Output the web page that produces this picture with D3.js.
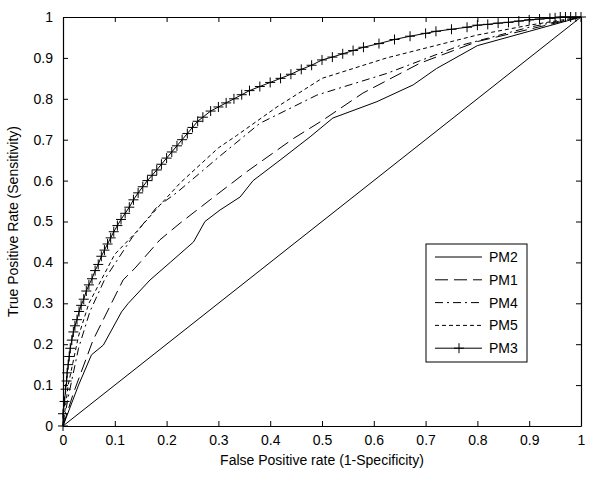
<!DOCTYPE html>
<html>
<head>
<meta charset="utf-8">
<script src="https://cdn.jsdelivr.net/npm/d3@7"></script>
<style>
  body { margin: 0; background: #fff; }
  svg text { font-family: Arial, "Liberation Sans", sans-serif; fill: #000; }
</style>
</head>
<body>
<div id="chart"></div>
<script>
// ROC curves (false positive rate, true positive rate)
const pm2X = [0, 0.03, 0.055, 0.078, 0.113, 0.126, 0.168, 0.207, 0.252, 0.274, 0.303, 0.342, 0.367, 0.419, 0.477, 0.521, 0.606, 0.676, 0.721, 0.8, 0.9, 1];
const pm2Y = [0, 0.1, 0.174, 0.198, 0.279, 0.3, 0.357, 0.4, 0.45, 0.5, 0.528, 0.56, 0.6, 0.65, 0.707, 0.753, 0.793, 0.834, 0.874, 0.93, 0.965, 1];

const pm1X = [0, 0.02, 0.058, 0.116, 0.139, 0.187, 0.226, 0.284, 0.355, 0.445, 0.502, 0.579, 0.689, 0.8, 0.9, 1];
const pm1Y = [0, 0.08, 0.21, 0.357, 0.386, 0.455, 0.496, 0.553, 0.622, 0.703, 0.748, 0.814, 0.887, 0.94, 0.97, 1];

const pm4X = [0, 0.01, 0.03, 0.052, 0.081, 0.133, 0.181, 0.219, 0.303, 0.38, 0.49, 0.625, 0.766, 0.9, 1];
const pm4Y = [0, 0.07, 0.19, 0.28, 0.36, 0.46, 0.535, 0.57, 0.66, 0.74, 0.809, 0.862, 0.93, 0.975, 1];

const pm5X = [0, 0.01, 0.03, 0.05, 0.1, 0.142, 0.187, 0.226, 0.3, 0.335, 0.413, 0.5, 0.625, 0.8, 0.9, 1];
const pm5Y = [0, 0.1, 0.22, 0.3, 0.42, 0.475, 0.54, 0.594, 0.68, 0.71, 0.78, 0.85, 0.9, 0.956, 0.98, 1];

const pm3X = [0, 0, 0.003, 0.005, 0.007, 0.008, 0.01, 0.012, 0.014, 0.017, 0.02, 0.023, 0.027, 0.031, 0.035, 0.04,
  0.045, 0.05, 0.056, 0.062, 0.068, 0.074, 0.08, 0.086, 0.092, 0.098, 0.105, 0.112, 0.12, 0.128, 0.136, 0.145,
  0.154, 0.163, 0.172, 0.181, 0.19, 0.2, 0.21, 0.22, 0.23, 0.24, 0.25, 0.26, 0.27, 0.285, 0.3, 0.315, 0.33, 0.345,
  0.36, 0.38, 0.4, 0.42, 0.44, 0.46, 0.48, 0.5, 0.52, 0.54, 0.56, 0.58, 0.61, 0.64, 0.67, 0.7, 0.72, 0.75, 0.78,
  0.8, 0.82, 0.84, 0.86, 0.88, 0.9, 0.92, 0.94, 0.95, 0.96, 0.97, 0.98, 0.99, 1];
const pm3Y = [0, 0.03, 0.06, 0.09, 0.11, 0.13, 0.15, 0.17, 0.19, 0.21, 0.23, 0.245, 0.26, 0.28, 0.295, 0.31,
  0.33, 0.345, 0.36, 0.38, 0.395, 0.415, 0.43, 0.445, 0.46, 0.475, 0.49, 0.505, 0.52, 0.535, 0.553, 0.57,
  0.585, 0.6, 0.613, 0.626, 0.64, 0.655, 0.67, 0.685, 0.7, 0.715, 0.73, 0.745, 0.755, 0.77, 0.78, 0.79, 0.8, 0.81,
  0.82, 0.83, 0.84, 0.85, 0.86, 0.872, 0.882, 0.895, 0.902, 0.91, 0.918, 0.926, 0.935, 0.945, 0.953, 0.96, 0.965, 0.97, 0.975,
  0.98, 0.982, 0.985, 0.987, 0.99, 0.993, 0.995, 0.997, 0.998, 1, 1, 1, 1, 1];

const chanceX = [0, 1];
const chanceY = [0, 1];

const seriesNames = ["PM2", "PM1", "PM4", "PM5", "PM3"];
const tickValues = [0, 0.1, 0.2, 0.3, 0.4, 0.5, 0.6, 0.7, 0.8, 0.9, 1];

// line style for each series
const dashes = { PM2: null, PM1: "13,6", PM4: "8,4,2,4", PM5: "4,3", PM3: null };

const W = 600, H = 481;
const margin = { top: 17, right: 19, bottom: 55, left: 63 };
const width = W - margin.left - margin.right;
const height = H - margin.top - margin.bottom;

const svg = d3.select("#chart").append("svg")
  .attr("width", W).attr("height", H);

const g = svg.append("g")
  .attr("transform", `translate(${margin.left},${margin.top})`);

const x = d3.scaleLinear().domain([0, 1]).range([0, width]);
const y = d3.scaleLinear().domain([0, 1]).range([height, 0]);

const fmt = d => d === 0 || d === 1 ? String(d) : d.toFixed(1);

// axes with inward ticks on all four sides
g.append("g").attr("transform", `translate(0,${height})`)
  .call(d3.axisBottom(x).tickValues(tickValues).tickFormat(fmt).tickSizeInner(-5).tickSizeOuter(0).tickPadding(9));
g.append("g")
  .call(d3.axisLeft(y).tickValues(tickValues).tickFormat(fmt).tickSizeInner(-5).tickSizeOuter(0).tickPadding(10));
g.append("g")
  .call(d3.axisTop(x).tickValues(tickValues).tickFormat("").tickSizeInner(-5).tickSizeOuter(0));
g.append("g").attr("transform", `translate(${width},0)`)
  .call(d3.axisRight(y).tickValues(tickValues).tickFormat("").tickSizeInner(-5).tickSizeOuter(0));

g.selectAll(".domain").attr("stroke", "#000").attr("stroke-width", 1.2);
g.selectAll(".tick line").attr("stroke", "#000");
g.selectAll(".tick text").style("font-size", "14px").attr("fill", "#000");

// axis titles
svg.append("text")
  .attr("x", margin.left + width / 2).attr("y", 465)
  .attr("text-anchor", "middle").style("font-size", "14px")
  .text("False Positive rate (1-Specificity)");
svg.append("text")
  .attr("transform", `translate(18,${margin.top + height / 2}) rotate(-90)`)
  .attr("text-anchor", "middle").style("font-size", "14px")
  .text("True Positive Rate (Sensitivity)");

const line = d3.line().x(d => x(d[0])).y(d => y(d[1]));
const zip = (a, b) => a.map((v, i) => [v, b[i]]);

// chance diagonal
g.append("path").datum(zip(chanceX, chanceY))
  .attr("d", line).attr("fill", "none").attr("stroke", "#000").attr("stroke-width", 1);

const curves = [
  { name: "PM2", pts: zip(pm2X, pm2Y) },
  { name: "PM1", pts: zip(pm1X, pm1Y) },
  { name: "PM4", pts: zip(pm4X, pm4Y) },
  { name: "PM5", pts: zip(pm5X, pm5Y) },
  { name: "PM3", pts: zip(pm3X, pm3Y) }
];

curves.forEach(c => {
  g.append("path").datum(c.pts)
    .attr("d", line).attr("fill", "none")
    .attr("stroke", "#000").attr("stroke-width", 1)
    .attr("stroke-dasharray", dashes[c.name]);
});

// + markers for PM3
const plus = (sel, s) => sel.append("path")
  .attr("d", `M${-s},0H${s}M0,${-s}V${s}`)
  .attr("stroke", "#000").attr("stroke-width", 1).attr("fill", "none");

g.selectAll(".mk").data(zip(pm3X, pm3Y)).enter().append("g")
  .attr("class", "mk")
  .attr("transform", d => `translate(${x(d[0])},${y(d[1])})`)
  .each(function() { plus(d3.select(this), 5); });

// legend
const lg = svg.append("g").attr("transform", "translate(426,244)");
lg.append("rect").attr("width", 101).attr("height", 118)
  .attr("fill", "#fff").attr("stroke", "#000").attr("stroke-width", 1);

seriesNames.forEach((name, i) => {
  const ly = 13 + i * 22.8;
  lg.append("line").attr("x1", 9).attr("x2", 56).attr("y1", ly).attr("y2", ly)
    .attr("stroke", "#000").attr("stroke-width", 1)
    .attr("stroke-dasharray", dashes[name]);
  if (name === "PM3") {
    plus(lg.append("g").attr("transform", `translate(33,${ly})`), 5);
  }
  lg.append("text").attr("x", 63).attr("y", ly + 5)
    .style("font-size", "14px").text(name);
});
</script>
</body>
</html>
